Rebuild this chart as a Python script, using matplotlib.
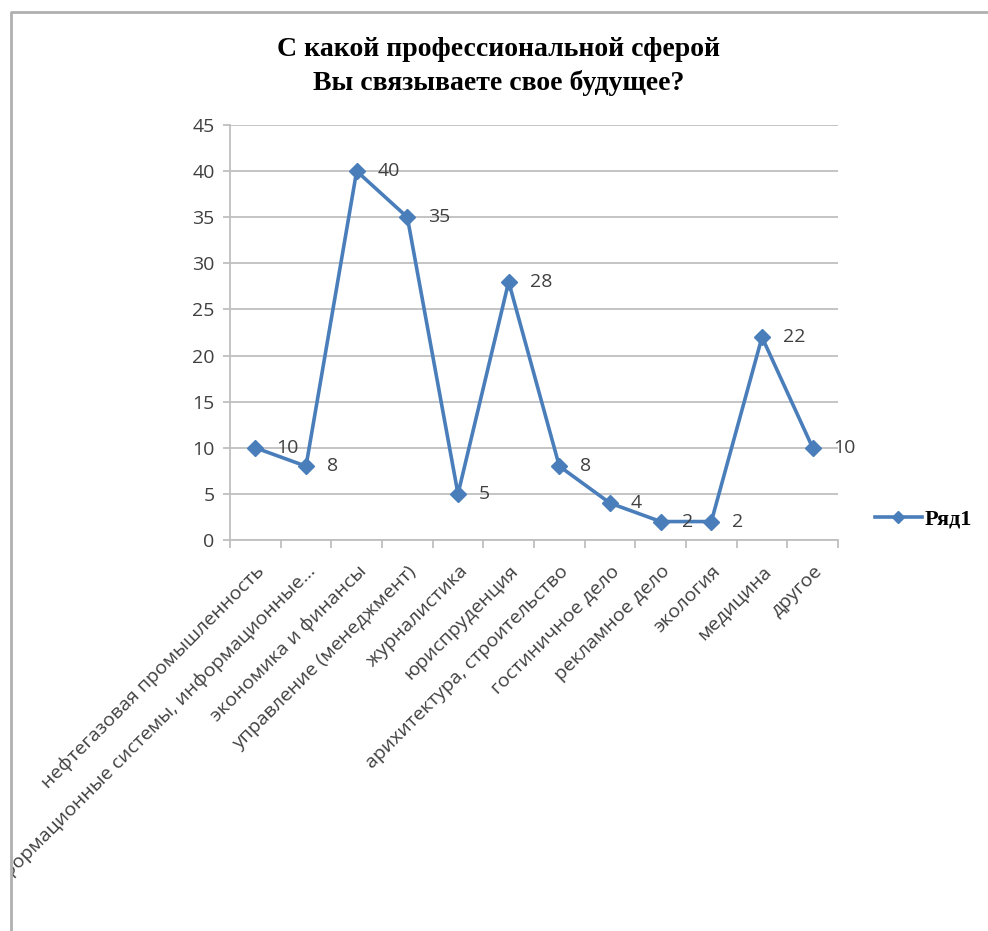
import matplotlib.pyplot as plt
from matplotlib.patches import Rectangle
from matplotlib.lines import Line2D

categories = [
    'нефтегазовая промышленность',
    'информационные системы, информационные…',
    'экономика и финансы',
    'управление (менеджмент)',
    'журналистика',
    'юриспруденция',
    'арихитектура, строительство',
    'гостиничное дело',
    'рекламное дело',
    'экология',
    'медицина',
    'другое',
]
values = [10, 8, 40, 35, 5, 28, 8, 4, 2, 2, 22, 10]
yticks = [0, 5, 10, 15, 20, 25, 30, 35, 40, 45]
title = 'С какой профессиональной сферой\nВы связываете свое будущее?'
series_name = 'Ряд1'

blue = '#4A7EBB'
grid = '#BFBFBF'
txt = '#404040'
sans = 'Open Sans'

fig = plt.figure(figsize=(9.88, 9.31), dpi=100)
ax = fig.add_axes([230 / 988, 1 - 540 / 931, 608 / 988, 415 / 931])

x = list(range(len(values)))
ax.plot(x, values, color=blue, lw=2.6, marker='D', ms=8, mfc=blue, mec=blue,
        label=series_name, zorder=3)

for xi, v in zip(x, values):
    ax.annotate(str(v), (xi, v), xytext=(15, 0), textcoords='offset points',
                ha='left', va='center', fontsize=14, color=txt, family=sans)

ax.set_xlim(-0.5, len(values) - 0.5)
ax.set_ylim(0, 45)
ax.set_yticks(yticks)
ax.yaxis.grid(True, color=grid, lw=1.3)
ax.set_axisbelow(True)

# category boundaries carry the tick marks, labels sit at the points
ax.set_xticks([i - 0.5 for i in range(len(values) + 1)])
ax.set_xticklabels([])
ax.set_xticks(x, minor=True)
ax.set_xticklabels(categories, minor=True, rotation=45, ha='right',
                   rotation_mode='anchor', fontsize=14, color=txt, family=sans)
ax.tick_params(axis='x', which='major', length=6, color=grid, width=1.3)
ax.tick_params(axis='x', which='minor', length=0, pad=16)
ax.tick_params(axis='y', length=5, color=grid, width=1.3, labelsize=14,
               labelcolor=txt, pad=6)
for lab in ax.get_yticklabels():
    lab.set_family(sans)

for s in ['top', 'right']:
    ax.spines[s].set_visible(False)
ax.spines['left'].set_color(grid)
ax.spines['bottom'].set_color(grid)
ax.spines['left'].set_linewidth(1.3)
ax.spines['bottom'].set_linewidth(1.3)

fig.text(0.505, 1 - 66 / 931, title, ha='center', va='center', fontsize=20,
         fontweight='bold', family='Liberation Serif', linespacing=1.4)

handle = Line2D([], [], color=blue, lw=2.6, marker='D', ms=6.5, mfc=blue, mec=blue)
fig.legend([handle], [series_name], loc='center left',
           bbox_to_anchor=(875 / 988, 1 - 519 / 931), frameon=False,
           borderpad=0, borderaxespad=0, handlelength=2.1, handletextpad=0.15,
           prop={'family': 'Liberation Serif', 'weight': 'bold', 'size': 16})

# outer chart frame, text left of it is hidden
fig.patches.append(Rectangle((0, 0), 11 / 988, 1, transform=fig.transFigure,
                             facecolor='white', edgecolor='none', zorder=10))
fig.patches.append(Rectangle((0, 1 - 12 / 931), 1, 12 / 931, transform=fig.transFigure,
                             facecolor='white', edgecolor='none', zorder=10))
fig.lines.append(Line2D([11 / 988, 11 / 988, 1], [0, 1 - 12 / 931, 1 - 12 / 931],
                        transform=fig.transFigure, color='#B0B0B0', lw=2, zorder=11))

fig.savefig('out.png', dpi=100)
